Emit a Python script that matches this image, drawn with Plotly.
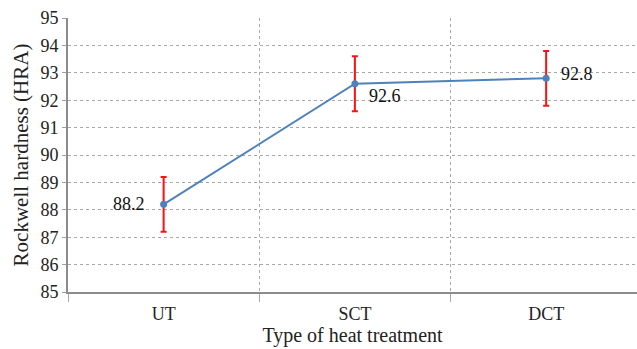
import plotly.graph_objects as go

categories = ["UT", "SCT", "DCT"]
hardness = [88.2, 92.6, 92.8]
errors = [1.0, 1.0, 1.0]
label_text = ["88.2", "92.6", "92.8"]
y_ticks = list(range(85, 96))

# label placement (anchor, pixel offsets) for each point
label_anchor = ["right", "left", "left"]
label_dx = [-17, 12, 13]
label_dy = [0, -12, 4]

font_family = "Liberation Serif"

fig = go.Figure()
fig.add_trace(go.Scatter(
    x=categories, y=hardness,
    mode="lines+markers",
    line=dict(color="#4F81BD", width=2),
    marker=dict(color="#4F81BD", size=7),
    error_y=dict(type="data", array=errors, color="#FF1010", thickness=2, width=3),
    showlegend=False,
))

for c, v, t, a, dx, dy in zip(categories, hardness, label_text, label_anchor, label_dx, label_dy):
    fig.add_annotation(
        x=c, y=v, text=t, showarrow=False,
        xanchor=a, yanchor="middle", xshift=dx, yshift=dy,
        font=dict(family=font_family, size=18, color="#111111"),
    )

fig.update_layout(
    width=637, height=349,
    margin=dict(l=68, r=0, t=18, b=57),
    paper_bgcolor="white", plot_bgcolor="white",
    font=dict(family=font_family, size=18, color="#222222"),
    xaxis=dict(
        type="category", range=[-0.5, 2.475],
        tickson="boundaries", ticks="outside", ticklen=8, tickcolor="#A8A8A8",
        ticklabelstandoff=4,
        showgrid=True, gridcolor="#A8A8A8", griddash="dot", gridwidth=1,
        showline=True, linecolor="#8C8C8C", linewidth=2,
        title=dict(text="Type of heat treatment", font=dict(family=font_family, size=20), standoff=2),
        tickfont=dict(family=font_family, size=18),
    ),
    yaxis=dict(
        range=[85, 95], tickvals=y_ticks,
        ticks="outside", ticklen=4, tickcolor="#A0A0A0",
        showgrid=True, gridcolor="#A8A8A8", griddash="dot", gridwidth=1,
        showline=True, linecolor="#8C8C8C", linewidth=2,
        zeroline=False,
        title=dict(text="Rockwell hardness (HRA)", font=dict(family=font_family, size=21), standoff=6),
        tickfont=dict(family=font_family, size=18),
    ),
)

fig.write_html("out.html")
